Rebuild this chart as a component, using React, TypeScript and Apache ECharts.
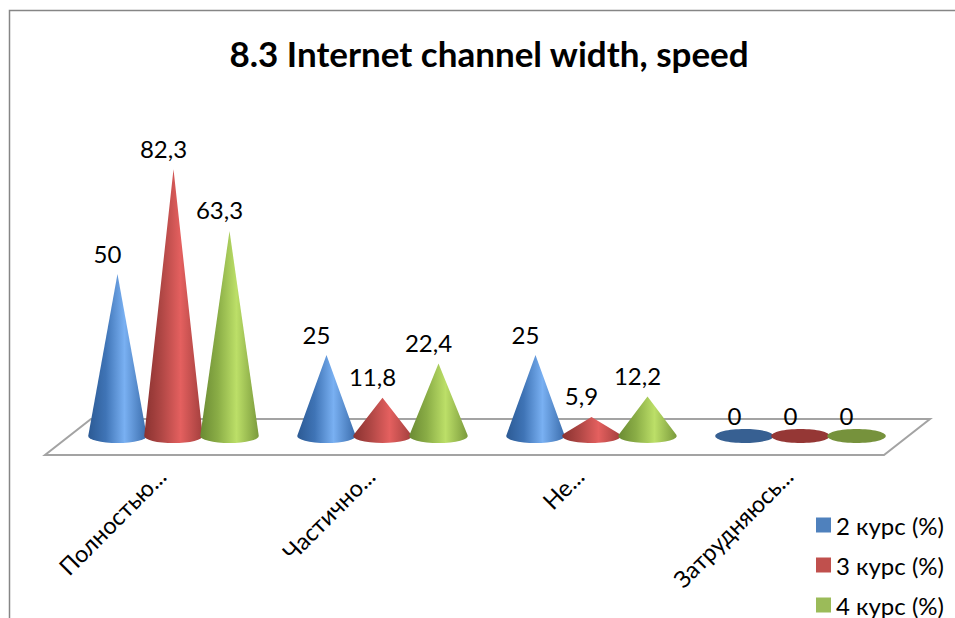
import React, { useEffect, useRef } from "react";
import * as echarts from "echarts";

const titleText = "8.3 Internet channel width, speed";
const categories = ["Полностью...", "Частично...", "Не...", "Затрудняюсь..."];
const course2 = [50, 25, 25, 0];
const course3 = [82.3, 11.8, 5.9, 0];
const course4 = [63.3, 22.4, 12.2, 0];
const seriesNames = ["2 курс (%)", "3 курс (%)", "4 курс (%)"];
const legendColors = ["#4f81bd", "#c0504d", "#9bbb59"];
const coneStops = [
  ["#2c5a94", "#3f74b6", "#79b0f2", "#3a6cab"],
  ["#8a3230", "#b04745", "#e4605f", "#a23f3d"],
  ["#6a8a33", "#8aad46", "#bcdf68", "#7a9a3c"],
];
const flatColors = ["#376092", "#953735", "#76923c"];
const fontFamily = "Lato, 'Open Sans', sans-serif";

// One cone per value: apex from the value scale, elliptical base on the zero line.
function coneRenderer(seriesIndex: number) {
  return (params: any, api: any) => {
    const band = api.size([1, 0])[0];
    const [cx0, tipY] = api.coord([api.value(0), api.value(1)]);
    const baseY = api.coord([api.value(0), 0])[1];
    const cx = cx0 + (seriesIndex - 1) * band * 0.268;
    const rx = band * 0.14;
    const ry = 7;
    const h = baseY - tipY;
    const value = api.value(1);
    const labelEl = {
      type: "text",
      z2: 20,
      style: {
        text: String(value).replace(".", ","),
        x: cx - 10,
        y: tipY - 21,
        textAlign: "center",
        textVerticalAlign: "middle",
        fill: "#000",
        fontSize: 24,
        fontFamily,
      },
    };
    if (h <= ry) {
      return {
        type: "group",
        children: [
          {
            type: "ellipse",
            shape: { cx, cy: baseY, rx, ry },
            style: { fill: flatColors[seriesIndex] },
          },
          labelEl,
        ],
      };
    }
    const dy = (ry * ry) / h;
    const dx = rx * Math.sqrt(1 - (ry * ry) / (h * h));
    const d = `M ${cx} ${tipY} L ${cx - dx} ${baseY - dy} A ${rx} ${ry} 0 1 0 ${cx + dx} ${baseY - dy} Z`;
    const s = coneStops[seriesIndex];
    return {
      type: "group",
      children: [
        {
          type: "path",
          shape: { pathData: d },
          style: {
            fill: new echarts.graphic.LinearGradient(0, 0, 1, 0, [
              { offset: 0, color: s[0] },
              { offset: 0.3, color: s[1] },
              { offset: 0.62, color: s[2] },
              { offset: 1, color: s[3] },
            ]),
          },
        },
        labelEl,
      ],
    };
  };
}

function coneSeries(index: number, values: number[]) {
  return {
    type: "custom",
    name: seriesNames[index],
    renderItem: coneRenderer(index),
    clip: false,
    itemStyle: { color: legendColors[index] },
    encode: { x: 0, y: 1 },
    data: values.map((v, i) => [i, v]),
  };
}

export default function App() {
  const ref = useRef<HTMLDivElement>(null);
  useEffect(() => {
    const chart = echarts.init(ref.current!, null, { renderer: "svg" });
    chart.setOption({
      animation: false,
      backgroundColor: "#fff",
      title: {
        text: titleText,
        left: 484,
        top: 30,
        textAlign: "center",
        textStyle: { fontSize: 35, fontWeight: "bold", color: "#000", fontFamily },
      },
      grid: { left: 69, width: 836, top: 112, height: 324 },
      xAxis: {
        type: "category",
        data: categories,
        axisLine: { show: false },
        axisTick: { show: false },
        axisLabel: {
          interval: 0,
          rotate: 45,
          margin: 24,
          padding: [0, 17, 0, 0],
          fontSize: 23.5,
          color: "#000",
          fontFamily,
        },
      },
      yAxis: { type: "value", min: 0, max: 100, show: false },
      legend: {
        orient: "vertical",
        left: 816,
        top: 513,
        padding: 0,
        itemWidth: 15,
        itemHeight: 15,
        itemGap: 16,
        data: seriesNames,
        icon: "rect",
        textStyle: { fontSize: 24, color: "#000", fontFamily },
      },
      graphic: [
        {
          type: "polygon",
          z: -1,
          shape: { points: [[45, 455], [884, 455], [930, 419], [91, 419]] },
          style: { fill: "#fff", stroke: "#a3a3a3", lineWidth: 2 },
        },
        {
          type: "polyline",
          z: -1,
          shape: { points: [[9.5, 618], [9.5, 10.5], [955, 10.5]] },
          style: { fill: "none", stroke: "#868686", lineWidth: 1.5 },
        },
      ],
      series: [coneSeries(0, course2), coneSeries(1, course3), coneSeries(2, course4)],
    });
    return () => chart.dispose();
  }, []);
  return (
    <div
      ref={ref}
      style={{ position: "fixed", left: 0, top: 0, width: 955, height: 618 }}
    />
  );
}
